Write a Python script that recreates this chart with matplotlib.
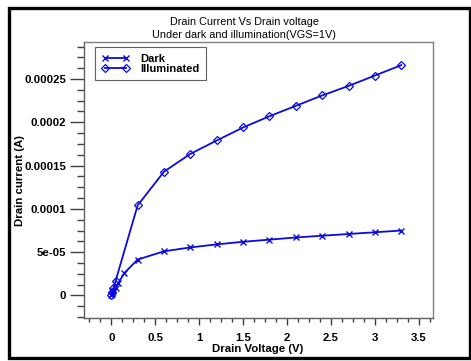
import matplotlib
matplotlib.use("Agg")
import matplotlib.pyplot as plt
from matplotlib.ticker import MultipleLocator, FuncFormatter
from matplotlib.patches import Rectangle

# drain voltage sweep (V) and drain current (A)
vd_dark = [0, 0.01, 0.025, 0.05, 0.08, 0.15, 0.3, 0.6, 0.9, 1.2, 1.5, 1.8, 2.1, 2.4, 2.7, 3.0, 3.3]
id_dark = [0, 2e-6, 5e-6, 9e-6, 1.45e-5, 2.6e-5, 4.15e-5, 5.1e-5, 5.55e-5, 5.9e-5, 6.2e-5,
           6.45e-5, 6.7e-5, 6.9e-5, 7.1e-5, 7.3e-5, 7.5e-5]
vd_ill = [0, 0.01, 0.025, 0.05, 0.3, 0.6, 0.9, 1.2, 1.5, 1.8, 2.1, 2.4, 2.7, 3.0, 3.3]
id_ill = [0, 3.5e-6, 8.5e-6, 1.7e-5, 1.04e-4, 1.43e-4, 1.635e-4, 1.79e-4, 1.94e-4, 2.07e-4,
          2.19e-4, 2.31e-4, 2.42e-4, 2.54e-4, 2.66e-4]

plt.rcParams['font.family'] = ['Liberation Sans', 'DejaVu Sans']

fig = plt.figure(figsize=(4.71, 3.61), dpi=100)
ax = fig.add_axes([84/471, 1 - 318/361, 349/471, 276/361])

blue = '#0a0ae0'
ax.plot(vd_dark, id_dark, color=blue, lw=1.3, marker='x', ms=5, mew=1.0, label='Dark')
ax.plot(vd_ill, id_ill, color=blue, lw=1.3, marker='D', ms=4, mew=0.9,
        mfc='none', label='Illuminated')

ax.set_xlim(-0.31, 3.66)
ax.set_ylim(-2.6e-5, 2.927e-4)
ax.xaxis.set_major_locator(MultipleLocator(0.5))
ax.xaxis.set_minor_locator(MultipleLocator(0.125))
ax.yaxis.set_major_locator(MultipleLocator(5e-5))
ax.yaxis.set_minor_locator(MultipleLocator(1.25e-5))
ax.xaxis.set_major_formatter(FuncFormatter(lambda v, p: '%g' % v))
ax.yaxis.set_major_formatter(FuncFormatter(lambda v, p: '%g' % round(v, 8)))

for s in ax.spines.values():
    s.set_color('#808080')
    s.set_linewidth(1.0)
ax.spines['left'].set_color('#606060')
ax.spines['bottom'].set_color('#606060')

ax.tick_params(axis='x', which='major', direction='out', length=5, width=1, color='#404040',
               pad=6, labelsize=8.2)
ax.tick_params(axis='x', which='minor', direction='out', length=3, width=1, color='#404040')
ax.tick_params(axis='y', which='major', direction='out', length=10, width=1, color='#404040',
               pad=3, labelsize=8.2)
ax.tick_params(axis='y', which='minor', direction='out', length=5, width=1, color='#404040')
for lab in ax.get_xticklabels() + ax.get_yticklabels():
    lab.set_fontweight('bold')

ax.set_xlabel('Drain Voltage (V)', fontsize=8.2, fontweight='bold')
ax.set_ylabel('Drain current (A)', fontsize=8.2, fontweight='bold')
ax.xaxis.set_label_coords(174/349, -26/276)
ax.yaxis.set_label_coords(-59/349, 0.5)

fig.text(244/471, 1 - 22/361, 'Drain Current Vs Drain voltage', ha='center', va='center', fontsize=7.8)
fig.text(244/471, 1 - 35/361, 'Under dark and illumination(VGS=1V)', ha='center', va='center', fontsize=7.8)

leg = ax.legend(loc='upper left', bbox_to_anchor=(11/349, 1 - 5/276), borderaxespad=0,
                numpoints=2, fancybox=False, framealpha=1, edgecolor='#606060', borderpad=0.6,
                handlelength=2.5, handletextpad=1.0, labelspacing=0.0,
                prop={'weight': 'bold', 'size': 8})
leg.get_frame().set_linewidth(0.8)

fig.patches.append(Rectangle((8.5/471, 3.5/361), 461/471, 350/361, transform=fig.transFigure,
                             fill=False, edgecolor='black', linewidth=2.4))

fig.savefig('out.png', dpi=100)
